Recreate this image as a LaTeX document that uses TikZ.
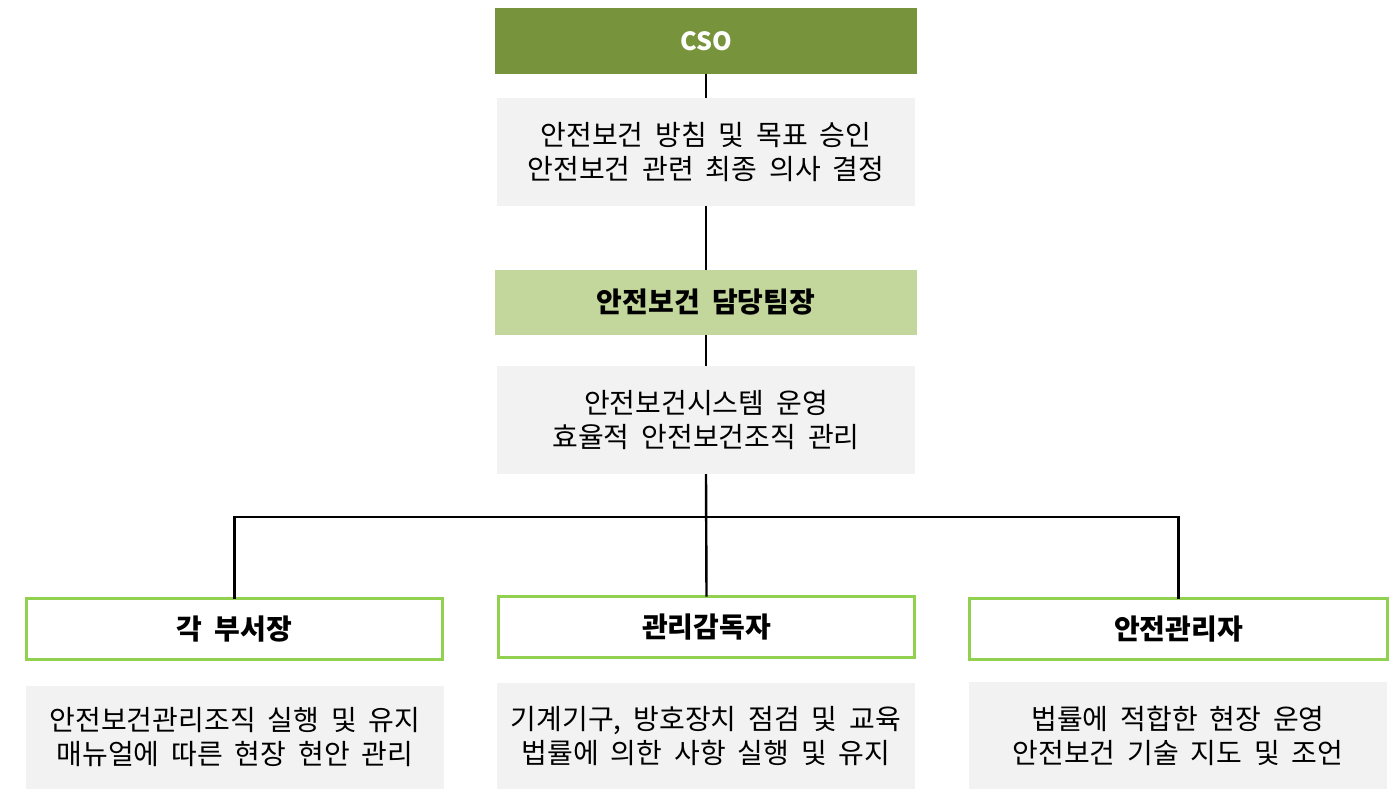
\documentclass[tikz,border=0pt]{standalone}
\usepackage{fontspec}
\setmainfont{Noto Sans CJK KR}[WordSpace=1.9]
\definecolor{olive}{HTML}{77933C}
\definecolor{lightolive}{HTML}{C3D69B}
\definecolor{descgray}{HTML}{F2F2F2}
\definecolor{brightgreen}{HTML}{92D050}
\begin{document}
\begin{tikzpicture}[x=1pt,y=-1pt,
  descbox/.style={fill=descgray,draw=none,inner sep=0pt,align=center,
    font=\fontsize{28}{34}\selectfont},
  headbox/.style={draw=none,inner sep=0pt,align=center,
    font=\fontsize{28}{32}\selectfont\bfseries},
  rolebox/.style={draw=brightgreen,line width=3pt,fill=white,inner sep=0pt,align=center,
    font=\fontsize{28}{32}\selectfont\bfseries},
  link/.style={draw=black,line width=2.4pt}]
\useasboundingbox (0,0) rectangle (1398,789);
\node[headbox,fill=olive,text=white,minimum width=422pt,minimum height=66pt,
  font=\fontsize{25}{30}\selectfont\bfseries] (cso) at (706,41) {CSO};
\node[descbox,minimum width=418pt,minimum height=108pt] (d1) at (706,152) {안전보건 방침 및 목표 승인\\안전보건 관련 최종 의사 결정};
\node[headbox,fill=lightolive,minimum width=422pt,minimum height=65pt] (team) at (706,302.5) {안전보건 담당팀장};
\node[descbox,minimum width=418pt,minimum height=108pt] (d2) at (706,420) {안전보건시스템 운영\\효율적 안전보건조직 관리};
\node[rolebox,minimum width=416pt,minimum height=61pt] (left) at (234.5,629) {각 부서장};
\node[rolebox,minimum width=416pt,minimum height=61pt] (mid) at (706.5,627) {관리감독자};
\node[rolebox,minimum width=418pt,minimum height=61pt] (right) at (1178.5,629) {안전관리자};
\node[descbox,minimum width=418pt,minimum height=103pt] (dl) at (235,737.5) {안전보건관리조직 실행 및 유지\\매뉴얼에 따른 현장 현안 관리};
\node[descbox,minimum width=418pt,minimum height=106pt] (dm) at (706,736) {기계기구, 방호장치 점검 및 교육\\법률에 의한 사항 실행 및 유지};
\node[descbox,minimum width=418pt,minimum height=107pt] (dr) at (1178,735.5) {법률에 적합한 현장 운영\\안전보건 기술 지도 및 조언};
\coordinate (bar) at (706,517);
\draw[link] (cso.south) -- (d1.north);
\draw[link] (d1.south) -- (team.north);
\draw[link] (team.south) -- (d2.north);
\draw[link] (d2.south) -- ([yshift=-1.5pt]mid.north);
\draw[link] ([yshift=-1.5pt]left.north) -- (left.north |- bar) -- (right.north |- bar) -- ([yshift=-1.5pt]right.north);
\end{tikzpicture}
\end{document}
